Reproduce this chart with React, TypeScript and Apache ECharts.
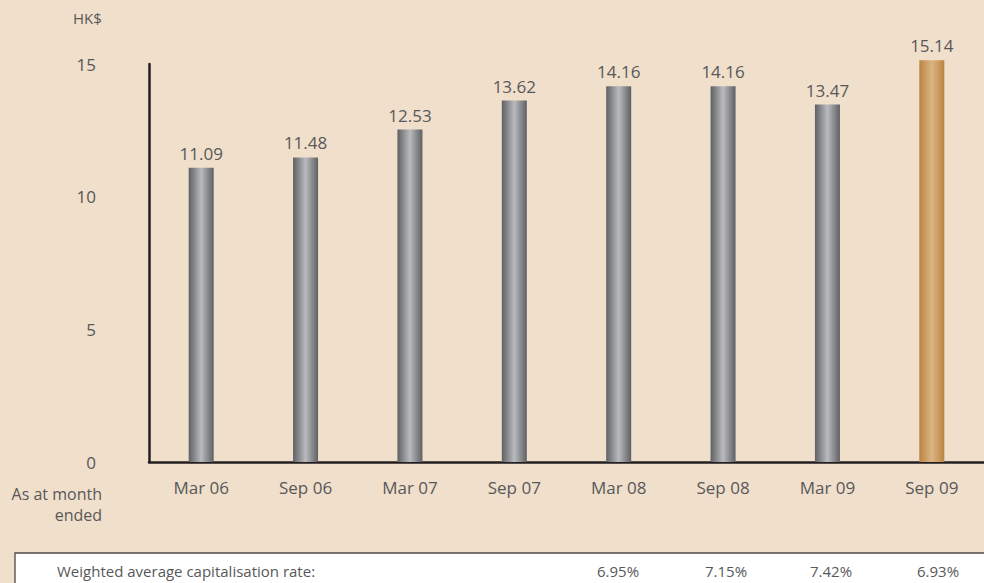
import React, { useEffect, useRef } from "react";
import * as echarts from "echarts";

const categories = ["Mar 06", "Sep 06", "Mar 07", "Sep 07", "Mar 08", "Sep 08", "Mar 09", "Sep 09"];
const values = [11.09, 11.48, 12.53, 13.62, 14.16, 14.16, 13.47, 15.14];
const yTicks = [0, 5, 10, 15];
const rateLabel = "Weighted average capitalisation rate:";
const rates = ["6.95%", "7.15%", "7.42%", "6.93%"];
const highlightIndex = 7;

const FONT = "'Open Sans', 'Noto Sans', sans-serif";
const TEXT = "#58585a";

const greyGrad = {
  type: "linear", x: 0, y: 0, x2: 1, y2: 0,
  colorStops: [
    { offset: 0, color: "#5f6064" },
    { offset: 0.5, color: "#babbbf" },
    { offset: 1, color: "#5f6064" },
  ],
};
const goldGrad = {
  type: "linear", x: 0, y: 0, x2: 1, y2: 0,
  colorStops: [
    { offset: 0, color: "#bb8440" },
    { offset: 0.5, color: "#dcb583" },
    { offset: 1, color: "#bb8440" },
  ],
};

export default function App() {
  const ref = useRef<HTMLDivElement>(null);
  useEffect(() => {
    if (!ref.current) return;
    const chart = echarts.init(ref.current, null, { renderer: "svg" });
    const rateX = [618, 726, 831, 938];
    chart.setOption({
      animation: false,
      backgroundColor: "#f0dfcb",
      grid: { left: 149, top: 64, width: 847, height: 398, containLabel: false },
      xAxis: {
        type: "category",
        data: categories,
        axisLine: { lineStyle: { color: "#231f20", width: 2.5 } },
        axisTick: { show: false },
        axisLabel: { color: TEXT, fontSize: 17, fontFamily: FONT, margin: 17 },
      },
      yAxis: {
        type: "value",
        min: 0,
        max: 15,
        interval: 5,
        axisLine: { show: true, lineStyle: { color: "#231f20", width: 2.5 } },
        axisTick: { show: false },
        splitLine: { show: false },
        axisLabel: {
          color: TEXT, fontSize: 17, fontFamily: FONT, margin: 53,
          padding: [6, 0, 0, 0],
          formatter: (v: number) => (yTicks.includes(v) ? String(v) : ""),
        },
      },
      series: [
        {
          type: "bar",
          barWidth: 25,
          clip: false,
          data: values.map((v, i) => ({
            value: v,
            itemStyle: { color: i === highlightIndex ? goldGrad : greyGrad },
          })),
          label: {
            show: true,
            position: "top",
            distance: 6,
            color: TEXT,
            fontSize: 17,
            fontFamily: FONT,
            formatter: (p: any) => p.value.toFixed(2),
          },
        },
      ],
      graphic: [
        {
          type: "text", x: 73, y: 10,
          style: { text: "HK$", fill: TEXT, font: `15px ${FONT}` },
        },
        {
          type: "text", x: 102, y: 483,
          style: { text: "As at month\nended", fill: TEXT, font: `16px ${FONT}`, align: "right", lineHeight: 21 },
        },
        {
          type: "rect",
          shape: { x: 15, y: 553, width: 990, height: 40 },
          style: { fill: "#ffffff", stroke: "#4f4848", lineWidth: 1.3 },
        },
        {
          type: "text", x: 57, y: 571,
          style: { text: rateLabel, fill: TEXT, font: `15px ${FONT}`, verticalAlign: "middle" },
        },
        ...rates.map((r, i) => ({
          type: "text", x: rateX[i], y: 571,
          style: { text: r, fill: TEXT, font: `15px ${FONT}`, align: "center", verticalAlign: "middle" },
        })),
      ],
    });
    return () => chart.dispose();
  }, []);
  return <div ref={ref} style={{ position: "fixed", left: 0, top: 0, width: 984, height: 583 }} />;
}
